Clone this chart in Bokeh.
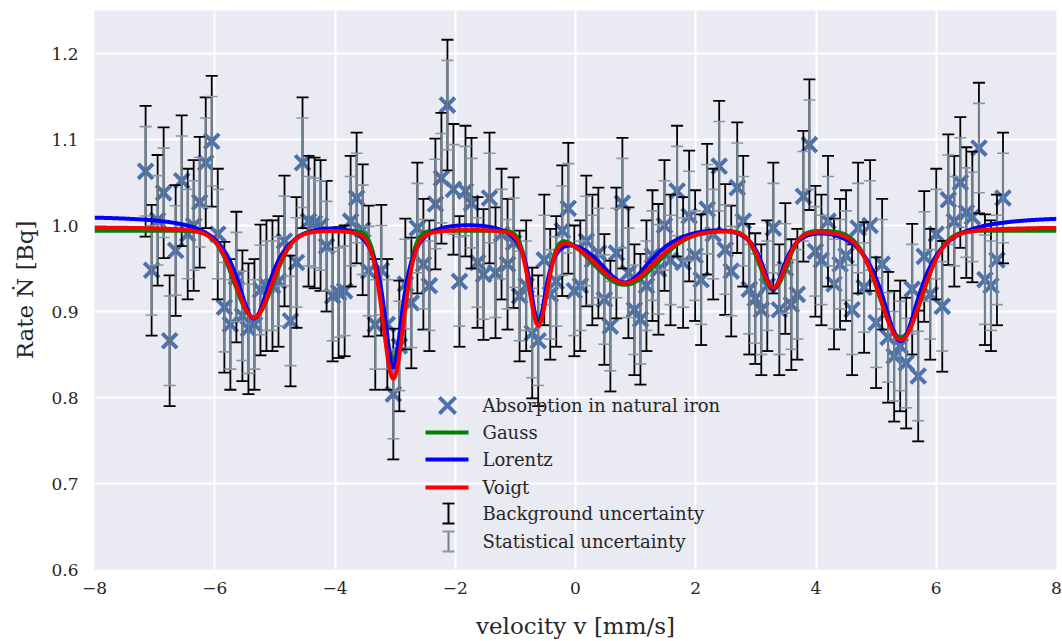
import numpy as np
from bokeh.plotting import figure
from bokeh.models import Range1d, FixedTicker, Label, ColumnDataSource
from bokeh.embed import file_html
from bokeh.resources import INLINE

# ---------------- data ----------------
velocity = [
    -7.15, -7.05, -6.95, -6.85, -6.75, -6.65, -6.55, -6.45, -6.35, -6.25, -6.15, -6.05, -5.95,
    -5.84, -5.74, -5.64, -5.54, -5.44, -5.34, -5.24, -5.14, -5.04, -4.94, -4.84, -4.74, -4.64,
    -4.54, -4.44, -4.34, -4.24, -4.14, -4.04, -3.94, -3.84, -3.74, -3.64, -3.54, -3.44,
    -3.33, -3.23, -3.13, -3.03, -2.93, -2.83, -2.73, -2.63, -2.53, -2.43, -2.33, -2.23, -2.13,
    -2.03, -1.93, -1.83, -1.73, -1.63, -1.53, -1.43, -1.33, -1.23, -1.13, -1.03, -0.93,
    -0.82, -0.72, -0.62, -0.52, -0.42, -0.32, -0.22, -0.12, -0.02, 0.08, 0.18, 0.28, 0.38,
    0.48, 0.58, 0.68, 0.78, 0.88, 0.98, 1.08, 1.18, 1.28, 1.38, 1.48, 1.58,
    1.69, 1.79, 1.89, 1.99, 2.09, 2.19, 2.29, 2.39, 2.49, 2.59, 2.69, 2.79, 2.89, 2.99, 3.09,
    3.19, 3.29, 3.39, 3.49, 3.59, 3.69, 3.79, 3.89, 3.99, 4.09,
    4.20, 4.30, 4.40, 4.50, 4.60, 4.70, 4.80, 4.90, 5.00, 5.10, 5.20, 5.30, 5.40, 5.50, 5.60,
    5.70, 5.80, 5.90, 6.00, 6.10, 6.20, 6.30, 6.40, 6.50, 6.60,
    6.71, 6.81, 6.91, 7.01, 7.11,
]
rate = [
    1.063, 0.948, 1.006, 1.038, 0.866, 0.971, 1.052, 0.990, 1.000, 1.027, 1.073, 1.098, 0.990,
    0.905, 0.885, 0.940, 0.895, 0.880, 0.885, 0.925, 0.930, 0.930, 0.935, 0.982, 0.889, 0.957,
    1.073, 1.005, 1.003, 1.000, 0.976, 0.918, 0.922, 0.924, 1.005, 1.032, 0.995, 0.947,
    0.885, 0.948, 0.885, 0.804, 0.860, 0.932, 0.910, 0.997, 0.955, 0.930, 1.025, 1.055, 1.140,
    1.042, 0.935, 1.040, 1.026, 0.957, 0.943, 1.032, 0.945, 0.990, 0.955, 0.980, 0.918,
    0.930, 0.875, 0.866, 0.960, 0.920, 0.935, 0.994, 1.020, 0.924, 0.930, 0.982, 0.960, 0.968,
    0.914, 0.883, 0.968, 1.026, 0.945, 0.902, 0.891, 0.930, 0.965, 0.949, 1.000, 0.960,
    1.040, 0.957, 1.011, 0.965, 0.937, 1.019, 0.990, 1.069, 0.972, 0.947, 1.044, 1.005, 0.926,
    0.915, 0.902, 0.930, 0.997, 0.902, 0.950, 0.908, 0.920, 1.034, 1.094, 0.970, 0.960,
    1.005, 0.932, 0.955, 0.965, 0.902, 0.997, 0.928, 1.000, 0.887, 0.955, 0.870, 0.848, 0.860,
    0.840, 0.926, 0.825, 0.964, 0.920, 0.990, 0.906, 1.030, 1.005, 1.050, 1.015, 1.010,
    1.090, 0.937, 0.930, 0.960, 1.032,
]
background_err = 0.076
statistical_err = 0.052

# fit parameters (six absorption lines of alpha-iron)
line_centers = [-5.35, -3.03, -0.62, 0.82, 3.29, 5.41]
gauss_base = 0.994
gauss_amp = [0.101, 0.149, 0.101, 0.063, 0.068, 0.124]
gauss_sigma = [0.32, 0.18, 0.155, 0.53, 0.22, 0.36]
lorentz_base = 1.012
lorentz_amp = [0.118, 0.172, 0.112, 0.074, 0.076, 0.144]
lorentz_gamma = [0.35, 0.19, 0.17, 0.60, 0.24, 0.40]
voigt_base = 0.9985
voigt_eta = 0.3
voigt_amp = [0.105, 0.175, 0.110, 0.064, 0.068, 0.131]
voigt_hwhm = [0.37, 0.21, 0.18, 0.62, 0.25, 0.42]

x_ticks = [-8, -6, -4, -2, 0, 2, 4, 6, 8]
x_tick_labels = ["\u22128", "\u22126", "\u22124", "\u22122", "0", "2", "4", "6", "8"]
y_ticks = [0.6, 0.7, 0.8, 0.9, 1.0, 1.1, 1.2]
y_tick_labels = ["0.6", "0.7", "0.8", "0.9", "1.0", "1.1", "1.2"]

legend_labels = ["Absorption in natural iron", "Gauss", "Lorentz", "Voigt",
                 "Background uncertainty", "Statistical uncertainty"]

# ---------------- model curves ----------------
xf = np.linspace(-8, 8, 1600)
c = np.array(line_centers)[:, None]
d = xf[None, :] - c
gauss = gauss_base - np.sum(np.array(gauss_amp)[:, None] *
                            np.exp(-d**2 / (2 * np.array(gauss_sigma)[:, None]**2)), axis=0)
g2 = np.array(lorentz_gamma)[:, None]**2
lorentz = lorentz_base - np.sum(np.array(lorentz_amp)[:, None] * g2 / (d**2 + g2), axis=0)
w = np.array(voigt_hwhm)[:, None]
pv = voigt_eta * w**2 / (d**2 + w**2) + (1 - voigt_eta) * np.exp(-np.log(2) * d**2 / w**2)
voigt = voigt_base - np.sum(np.array(voigt_amp)[:, None] * pv, axis=0)

v = np.array(velocity)
r = np.array(rate)
src = ColumnDataSource(dict(
    x=v, y=r,
    bt=r + background_err, bb=r - background_err,
    st=r + statistical_err, sb=r - statistical_err,
))

# ---------------- figure ----------------
FONT = "DejaVu Serif"
TXT = "#262626"
p = figure(width=1062, height=641, output_backend="svg", toolbar_location=None,
           x_range=Range1d(-8, 8), y_range=Range1d(0.6, 1.25),
           min_border_left=94, min_border_right=6, min_border_top=10, min_border_bottom=72,
           background_fill_color="#EAEAF2", border_fill_color="white", outline_line_color=None)

p.xaxis.ticker = FixedTicker(ticks=x_ticks)
p.yaxis.ticker = FixedTicker(ticks=y_ticks)
p.xaxis.major_label_overrides = {t: s for t, s in zip(x_ticks, x_tick_labels)}
p.yaxis.major_label_overrides = {t: s for t, s in zip(y_ticks, y_tick_labels)}
for ax in (p.xaxis, p.yaxis):
    ax.axis_line_color = None
    ax.major_tick_line_color = None
    ax.minor_tick_line_color = None
    ax.major_tick_in = 0
    ax.major_tick_out = 0
    ax.major_label_text_font = FONT
    ax.major_label_text_font_size = "17px"
    ax.major_label_text_color = TXT
    ax.axis_label_text_font = FONT
    ax.axis_label_text_font_size = "23px"
    ax.axis_label_text_font_style = "normal"
    ax.axis_label_text_color = TXT
p.xaxis.major_label_standoff = 12
p.yaxis.major_label_standoff = 16
p.xaxis.axis_label = "velocity v [mm/s]"
p.yaxis.axis_label = "Rate \u1e44 [Bq]"
p.xaxis.axis_label_standoff = 16
p.yaxis.axis_label_standoff = 10
p.grid.grid_line_color = "white"
p.grid.grid_line_width = 1.8

BLUE = "#4C72B0"
BLACK = "#000000"
GREY = "#708090"
GREY_CAP = "#8a96a3"

p.scatter("x", "y", source=src, marker="x", size=21, line_width=4, line_color=BLUE)
p.segment("x", "bb", "x", "bt", source=src, line_color=BLACK, line_width=1.8)
p.scatter("x", "bt", source=src, marker="dash", size=12, line_color=BLACK, line_width=1.8)
p.scatter("x", "bb", source=src, marker="dash", size=12, line_color=BLACK, line_width=1.8)
p.segment("x", "sb", "x", "st", source=src, line_color=GREY, line_width=2.2)
p.scatter("x", "st", source=src, marker="dash", size=12, line_color=GREY_CAP, line_width=1.6)
p.scatter("x", "sb", source=src, marker="dash", size=12, line_color=GREY_CAP, line_width=1.6)

p.line(xf, gauss, line_color="#008000", line_width=4)
p.line(xf, lorentz, line_color="#0000FF", line_width=4)
p.line(xf, voigt, line_color="#FF0000", line_width=4)

# ---------------- legend (drawn manually, no frame) ----------------
def px2x(px):
    return -8 + (px - 94) * 16 / 962

def py2y(py):
    return 0.6 + (569 - py) * 0.65 / 559

row_py = [405, 432, 459, 487, 513, 541]
p.scatter([px2x(447)], [py2y(row_py[0])], marker="x", size=23, line_width=4, line_color=BLUE)
for py, col in zip(row_py[1:4], ["#008000", "#0000FF", "#FF0000"]):
    p.line([px2x(425), px2x(468)], [py2y(py), py2y(py)], line_color=col, line_width=3.8)
for py, col, capc in [(row_py[4], BLACK, BLACK), (row_py[5], GREY, GREY_CAP)]:
    y0, y1 = py2y(py + 10), py2y(py - 10)
    p.segment([px2x(448)], [y0], [px2x(448)], [y1], line_color=col, line_width=2)
    p.scatter([px2x(448), px2x(448)], [y0, y1], marker="dash", size=12, line_color=capc, line_width=1.8)
for py, lab in zip(row_py, legend_labels):
    p.add_layout(Label(x=px2x(482), y=py2y(py), text=lab, text_font=FONT, text_font_size="18px",
                       text_color=TXT, text_baseline="middle", text_align="left"))

open("out.html", "w").write(file_html(p, INLINE))
